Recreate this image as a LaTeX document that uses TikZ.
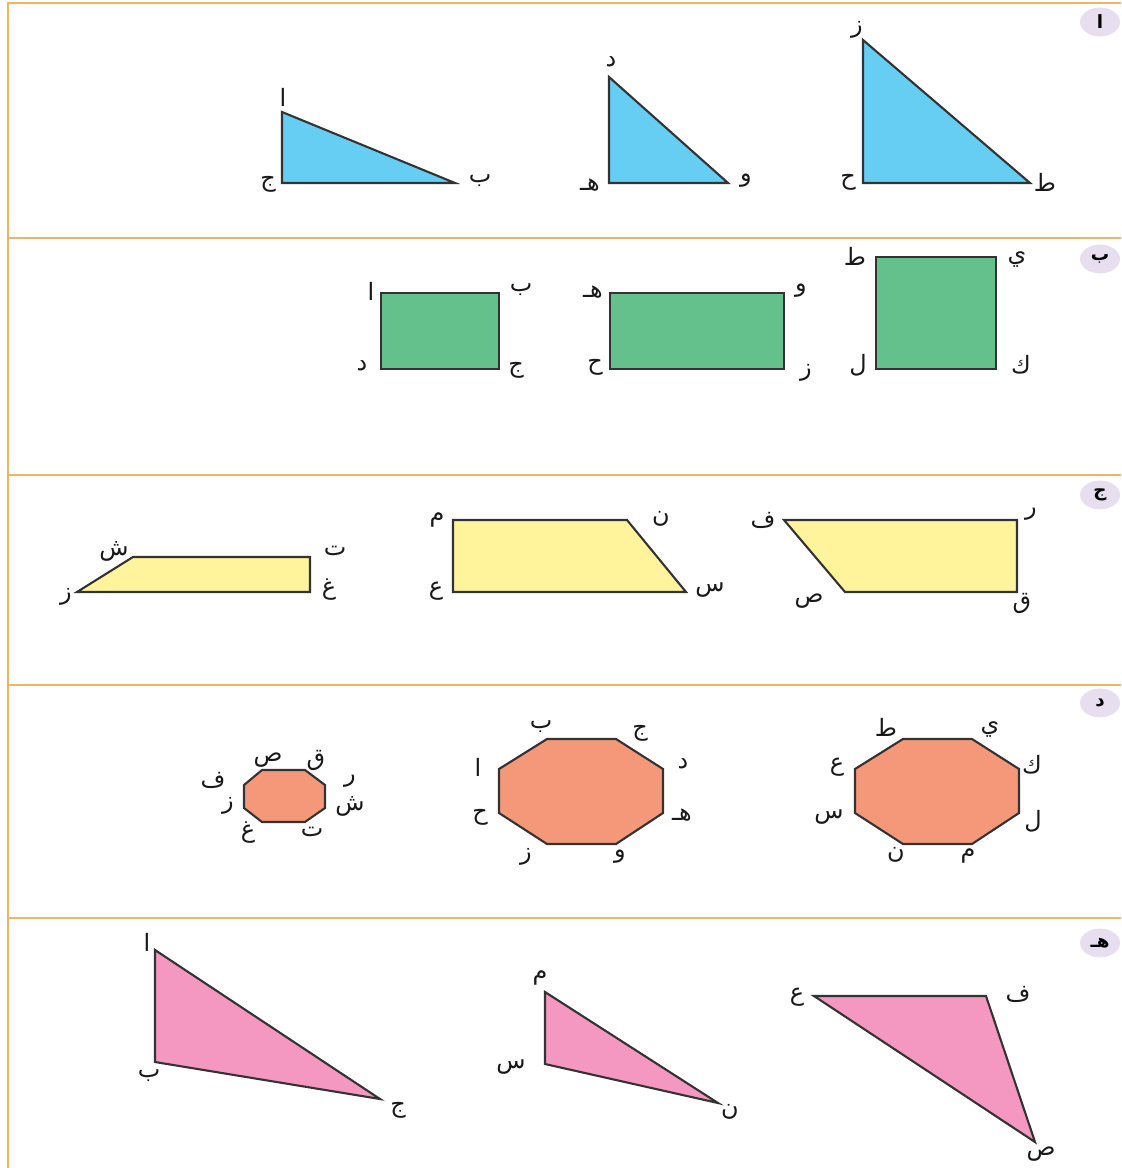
\documentclass[tikz,border=0pt]{standalone}
\usepackage{fontspec}
\usepackage{xcolor}
\newfontfamily\arabicfont[Script=Arabic]{DejaVu Sans}
\TeXXeTstate=1
\usetikzlibrary{shapes.geometric}

\definecolor{frameorange}{HTML}{F0B466}
\definecolor{badgefill}{HTML}{E7DEF0}
\definecolor{triblue}{HTML}{66CDF3}
\definecolor{rectgreen}{HTML}{64C18B}
\definecolor{trapyellow}{HTML}{FFF49C}
\definecolor{octsalmon}{HTML}{F49879}
\definecolor{tripink}{HTML}{F498C1}
\definecolor{edgegray}{HTML}{333333}

\newcommand{\ar}[1]{{\arabicfont\beginR #1\endR}}

\begin{document}
\begin{tikzpicture}[x=0.025cm, y=-0.025cm,
	frame/.style={frameorange, line width=1.8pt},
	polyfig/.style={draw=edgegray, line width=1.5pt, line join=miter},
	lbl/.style={font=\fontsize{17}{19}\selectfont, text=black!90, inner sep=0pt},
	badge/.style={ellipse, fill=badgefill, minimum width=1cm, minimum height=0.72cm,
		inner sep=0pt, font=\fontsize{13}{15}\selectfont\bfseries}]
	
	\useasboundingbox (0,0) rectangle (1121,1168);
	
	% Cadre
	\draw[frame] (8,1168) -- (8,3) -- (1121,3);
	\foreach \yy in {238,475,685,918} {
		\draw[frame] (8,\yy) -- (1121,\yy);
	}
	
	% Pastilles
	\node[badge] (bA) at (1100,22) {\ar{ا}};
	\node[badge] (bB) at (1100,259) {\ar{ب}};
	\node[badge] (bC) at (1100,495) {\ar{ج}};
	\node[badge] (bD) at (1100,703) {\ar{د}};
	\node[badge] (bE) at (1100,943) {\ar{هـ}};
	
	% Ligne 1 : triangles rectangles
	\filldraw[polyfig, fill=triblue] (282,112) -- (282,183) -- (455,183) -- cycle;
	\filldraw[polyfig, fill=triblue] (609,77) -- (609,183) -- (728,183) -- cycle;
	\filldraw[polyfig, fill=triblue] (863,40) -- (863,183) -- (1030,183) -- cycle;
	\node[lbl] (aA) at (283,97) {\ar{ا}};
	\node[lbl] (aC) at (268,184) {\ar{ج}};
	\node[lbl] (aB) at (480,181) {\ar{ب}};
	\node[lbl] (aD) at (611,62) {\ar{د}};
	\node[lbl] (aH) at (590,185) {\ar{هـ}};
	\node[lbl] (aW) at (746,181) {\ar{و}};
	\node[lbl] (aZ) at (857,30) {\ar{ز}};
	\node[lbl] (aHa) at (848,182) {\ar{ح}};
	\node[lbl] (aT) at (1045,182) {\ar{ط}};
	
	% Ligne 2 : rectangles
	\filldraw[polyfig, fill=rectgreen] (381,293) rectangle (499,369);
	\filldraw[polyfig, fill=rectgreen] (610,293) rectangle (784,369);
	\filldraw[polyfig, fill=rectgreen] (876,257) rectangle (996,369);
	\node[lbl] (bA1) at (371,291) {\ar{ا}};
	\node[lbl] (bB1) at (521,290) {\ar{ب}};
	\node[lbl] (bC1) at (516,370) {\ar{ج}};
	\node[lbl] (bD1) at (362,366) {\ar{د}};
	\node[lbl] (bH2) at (593,292) {\ar{هـ}};
	\node[lbl] (bW2) at (801,291) {\ar{و}};
	\node[lbl] (bZ2) at (806,373) {\ar{ز}};
	\node[lbl] (bHa2) at (595,367) {\ar{ح}};
	\node[lbl] (bT3) at (855,256) {\ar{ط}};
	\node[lbl] (bY3) at (1017,260) {\ar{ي}};
	\node[lbl] (bK3) at (1021,365) {\ar{ك}};
	\node[lbl] (bL3) at (858,365) {\ar{ل}};
	
	% Ligne 3 : trapezes
	\filldraw[polyfig, fill=trapyellow] (133,557) -- (310,557) -- (310,592) -- (77,592) -- cycle;
	\filldraw[polyfig, fill=trapyellow] (453,520) -- (627,520) -- (686,592) -- (453,592) -- cycle;
	\filldraw[polyfig, fill=trapyellow] (784,520) -- (1017,520) -- (1017,592) -- (845,592) -- cycle;
	\node[lbl] (cSh) at (114,551) {\ar{ش}};
	\node[lbl] (cT) at (335,551) {\ar{ت}};
	\node[lbl] (cGh) at (329,590) {\ar{غ}};
	\node[lbl] (cZ) at (66,597) {\ar{ز}};
	\node[lbl] (cM) at (437,520) {\ar{م}};
	\node[lbl] (cN) at (661,519) {\ar{ن}};
	\node[lbl] (cS) at (710,590) {\ar{س}};
	\node[lbl] (cE) at (436,591) {\ar{ع}};
	\node[lbl] (cF) at (763,520) {\ar{ف}};
	\node[lbl] (cR) at (1031,514) {\ar{ر}};
	\node[lbl] (cQ) at (1022,603) {\ar{ق}};
	\node[lbl] (cSa) at (809,601) {\ar{ص}};
	
	% Ligne 4 : octogones
	\filldraw[polyfig, fill=octsalmon] (903,739) -- (972,739) -- (1019,769) -- (1019,813)
		-- (972,844) -- (903,844) -- (855,813) -- (855,769) -- cycle;
	\filldraw[polyfig, fill=octsalmon] (547,739) -- (616,739) -- (663,769) -- (663,813)
		-- (616,844) -- (547,844) -- (499,813) -- (499,769) -- cycle;
	\filldraw[polyfig, fill=octsalmon] (262,770) -- (305,770) -- (325,785) -- (325,808)
		-- (305,822) -- (262,822) -- (244,808) -- (244,785) -- cycle;
	\node[lbl] (dT) at (886,727) {\ar{ط}};
	\node[lbl] (dY) at (990,729) {\ar{ي}};
	\node[lbl] (dK) at (1032,765) {\ar{ك}};
	\node[lbl] (dL) at (1033,821) {\ar{ل}};
	\node[lbl] (dM) at (968,856) {\ar{م}};
	\node[lbl] (dN) at (896,855) {\ar{ن}};
	\node[lbl] (dS) at (829,817) {\ar{س}};
	\node[lbl] (dE) at (837,767) {\ar{ع}};
	\node[lbl] (eB) at (541,727) {\ar{ب}};
	\node[lbl] (eC) at (640,733) {\ar{ج}};
	\node[lbl] (eD) at (683,764) {\ar{د}};
	\node[lbl] (eH) at (682,815) {\ar{هـ}};
	\node[lbl] (eW) at (620,857) {\ar{و}};
	\node[lbl] (eZ) at (526,857) {\ar{ز}};
	\node[lbl] (eHa) at (480,817) {\ar{ح}};
	\node[lbl] (eA) at (478,767) {\ar{ا}};
	\node[lbl] (fSa) at (268,760) {\ar{ص}};
	\node[lbl] (fQ) at (316,760) {\ar{ق}};
	\node[lbl] (fR) at (350,781) {\ar{ر}};
	\node[lbl] (fSh) at (350,806) {\ar{ش}};
	\node[lbl] (fT) at (312,832) {\ar{ت}};
	\node[lbl] (fGh) at (248,833) {\ar{غ}};
	\node[lbl] (fZ) at (228,806) {\ar{ز}};
	\node[lbl] (fF) at (213,780) {\ar{ف}};
	
	% Ligne 5 : triangles quelconques
	\filldraw[polyfig, fill=tripink] (155,950) -- (155,1062) -- (380,1099) -- cycle;
	\filldraw[polyfig, fill=tripink] (545,992) -- (545,1064) -- (718,1103) -- cycle;
	\filldraw[polyfig, fill=tripink] (814,996) -- (986,996) -- (1035,1142) -- cycle;
	\node[lbl] (gA) at (147,942) {\ar{ا}};
	\node[lbl] (gB) at (149,1076) {\ar{ب}};
	\node[lbl] (gC) at (398,1110) {\ar{ج}};
	\node[lbl] (gM) at (540,978) {\ar{م}};
	\node[lbl] (gS) at (511,1067) {\ar{س}};
	\node[lbl] (gN) at (730,1112) {\ar{ن}};
	\node[lbl] (gE) at (797,997) {\ar{ع}};
	\node[lbl] (gF) at (1018,994) {\ar{ف}};
	\node[lbl] (gSa) at (1041,1154) {\ar{ص}};
	
\end{tikzpicture}
\end{document}
